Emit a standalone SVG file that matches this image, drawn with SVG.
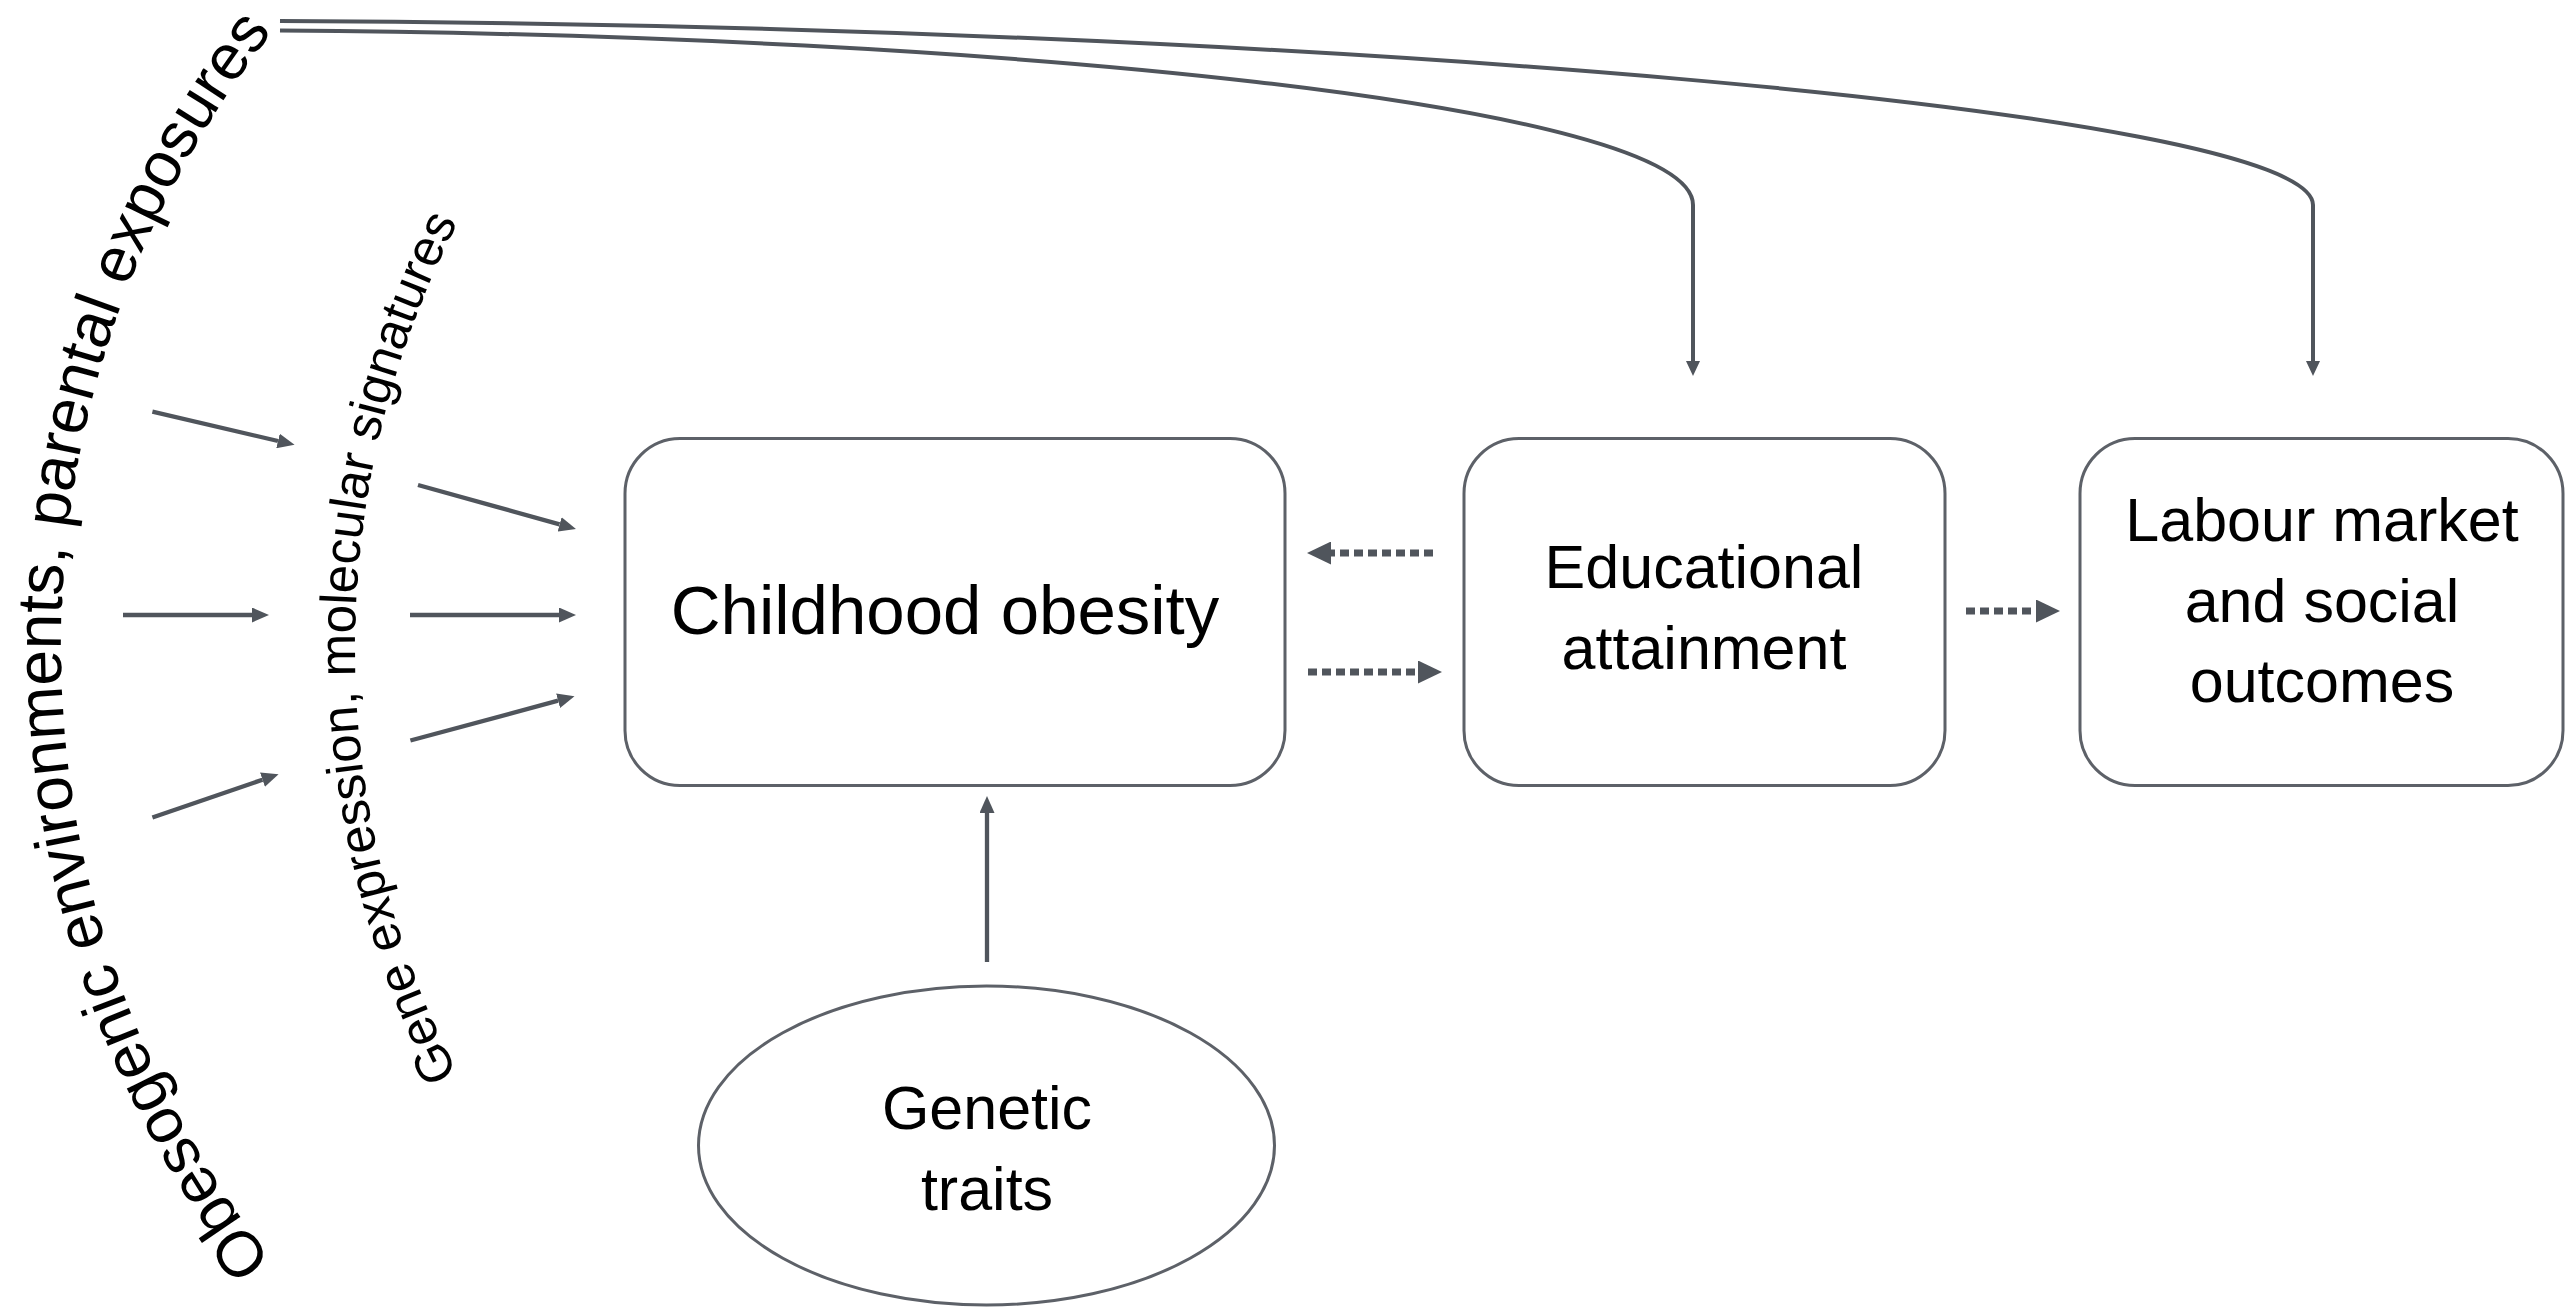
<svg xmlns="http://www.w3.org/2000/svg" width="2570" height="1312" viewBox="0 0 2570 1312">
<style>
.box{fill:#fff;stroke:#5d6168;stroke-width:3}
.lbl{font-family:"Liberation Sans",Arial,sans-serif;fill:#000;text-anchor:middle}
.con{fill:none;stroke:#50555c;stroke-width:4.3}
.thin{fill:none;stroke:#50555c;stroke-width:4}
.dash{fill:none;stroke:#50555c;stroke-width:7;stroke-dasharray:9 5}
.arc{font-family:"Liberation Sans",Arial,sans-serif;fill:#000}
</style>
<defs>
<marker id="mS" markerUnits="userSpaceOnUse" markerWidth="17" markerHeight="15" refX="0" refY="7.5" orient="auto"><path d="M0,0 L17,7.5 L0,15 z" fill="#50555c"/></marker>
<marker id="mC" markerUnits="userSpaceOnUse" markerWidth="15" markerHeight="14" refX="0" refY="7" orient="auto"><path d="M0,0 L15,7 L0,14 z" fill="#50555c"/></marker>
<marker id="mD" markerUnits="userSpaceOnUse" markerWidth="24" markerHeight="23" refX="0" refY="11.5" orient="auto"><path d="M0,0 L24,11.5 L0,23 z" fill="#50555c"/></marker>
<path id="outerArc" d="M417.5,1410.5 A998,998 0 0 1 417.5,-118.5"/>
<path id="innerArc" d="M479.9,1114 A932,932 0 0 1 479.9,182"/>
</defs>

<g id="outer-label">
<text class="arc" font-size="64"><textPath href="#outerArc" startOffset="50%" text-anchor="middle">Obesogenic environments, parental exposures</textPath></text>
</g>
<g id="inner-label">
<text class="arc" font-size="51"><textPath href="#innerArc" startOffset="50%" text-anchor="middle">Gene expression, molecular signatures</textPath></text>
</g>

<g id="node-obesity">
<rect class="box" x="625" y="438.5" width="660" height="347" rx="55" ry="55"/>
<text class="lbl" x="945" y="634" font-size="69">Childhood obesity</text>
</g>
<g id="node-education">
<rect class="box" x="1464" y="438.5" width="481" height="347" rx="55" ry="55"/>
<text class="lbl" x="1704" y="588" font-size="61">Educational</text>
<text class="lbl" x="1704" y="669" font-size="61">attainment</text>
</g>
<g id="node-labour">
<rect class="box" x="2080" y="438.5" width="483" height="347" rx="55" ry="55"/>
<text class="lbl" x="2322" y="541" font-size="61">Labour market</text>
<text class="lbl" x="2322" y="622" font-size="61">and social</text>
<text class="lbl" x="2322" y="702" font-size="61">outcomes</text>
</g>
<g id="node-genetic">
<ellipse class="box" cx="986.5" cy="1145.5" rx="288" ry="159.5"/>
<text class="lbl" x="987" y="1129" font-size="61">Genetic</text>
<text class="lbl" x="987" y="1210" font-size="61">traits</text>
</g>

<g id="connectors">
<line class="con" x1="152.4" y1="411.6" x2="278" y2="441" marker-end="url(#mS)"/>
<line class="con" x1="123" y1="615" x2="252" y2="615" marker-end="url(#mS)"/>
<line class="con" x1="152.4" y1="817.5" x2="262.5" y2="779.7" marker-end="url(#mS)"/>
<line class="con" x1="418" y1="485" x2="559.6" y2="524.4" marker-end="url(#mS)"/>
<line class="con" x1="410" y1="615" x2="559" y2="615" marker-end="url(#mS)"/>
<line class="con" x1="410.4" y1="740.5" x2="558.1" y2="700.7" marker-end="url(#mS)"/>
<line class="con" x1="987" y1="962" x2="987" y2="813" marker-end="url(#mS)"/>
<path class="thin" d="M280,30.5 C1000,35 1693,105 1693,205 L1693,361" marker-end="url(#mC)"/>
<path class="thin" d="M280,21 C1300,25 2313,110 2313,205 L2313,361" marker-end="url(#mC)"/>
<line class="dash" x1="1433" y1="553" x2="1331" y2="553" marker-end="url(#mD)"/>
<line class="dash" x1="1308" y1="672" x2="1418" y2="672" marker-end="url(#mD)"/>
<line class="dash" x1="1966" y1="611" x2="2036" y2="611" marker-end="url(#mD)"/>
</g>
</svg>
